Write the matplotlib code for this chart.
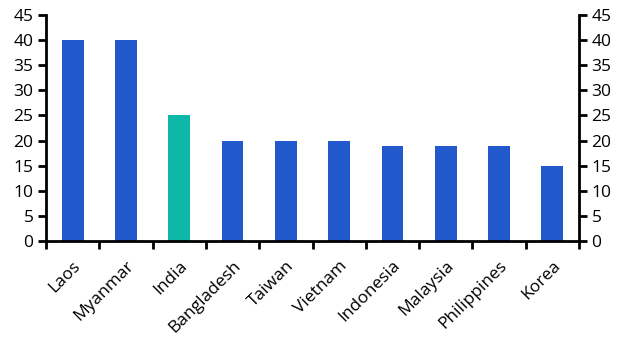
import matplotlib
matplotlib.use("Agg")
import matplotlib.pyplot as plt
import numpy as np

categories = ["Laos", "Myanmar", "India", "Bangladesh", "Taiwan", "Vietnam",
              "Indonesia", "Malaysia", "Philippines", "Korea"]
values = [40, 40, 25, 20, 20, 20, 19, 19, 19, 15]
highlight = "India"
yticks = [0, 5, 10, 15, 20, 25, 30, 35, 40, 45]

blue = "#2158CC"
teal = "#0DB8A8"

plt.rcParams['font.family'] = ['Open Sans', 'DejaVu Sans']

fig = plt.figure(figsize=(6.3, 3.54), dpi=100)
ax = fig.add_axes([46/630, 1-241/354, (579-46)/630, (241-15)/354])

x = np.arange(len(categories))
colors = [teal if c == highlight else blue for c in categories]
ax.bar(x, values, width=0.41, color=colors, zorder=2)

ax.set_xlim(-0.5, len(categories)-0.5)
ax.set_ylim(0, 45)
ax.set_yticks(yticks)
ax.set_yticklabels([str(v) for v in yticks])

ax.set_xticks(np.arange(len(categories)+1)-0.5)
ax.set_xticklabels([])
ax.set_xticks(x, minor=True)
ax.set_xticklabels(categories, minor=True, rotation=45, ha='right',
                   rotation_mode='anchor', fontsize=12.5)
ax.tick_params(axis='x', which='minor', length=0, pad=12)
ax.tick_params(axis='x', which='major', length=6, width=2, direction='out')

ax.tick_params(axis='y', length=6, width=2, labelsize=12.5, pad=3,
               left=True, right=True, labelleft=True, labelright=True)

for s in ['top']:
    ax.spines[s].set_visible(False)
for s in ['left', 'right', 'bottom']:
    ax.spines[s].set_linewidth(2)

fig.savefig("out.png", dpi=100)
